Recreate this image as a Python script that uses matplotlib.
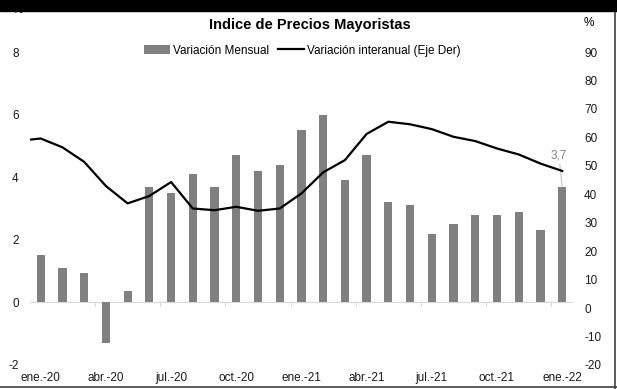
import numpy as np
import matplotlib.pyplot as plt
from matplotlib.patches import Rectangle
from matplotlib.lines import Line2D

plt.rcParams['font.family'] = ['Liberation Sans', 'DejaVu Sans']
plt.rcParams['axes.unicode_minus'] = False

meses       = ['ene.-20', 'feb.-20', 'mar.-20', 'abr.-20', 'may.-20', 'jun.-20',
               'jul.-20', 'ago.-20', 'sep.-20', 'oct.-20', 'nov.-20', 'dic.-20',
               'ene.-21', 'feb.-21', 'mar.-21', 'abr.-21', 'may.-21', 'jun.-21',
               'jul.-21', 'ago.-21', 'sep.-21', 'oct.-21', 'nov.-21', 'dic.-21',
               'ene.-22']
var_mensual = [1.5, 1.1, 0.95, -1.3, 0.35, 3.7, 3.5, 4.1, 3.7, 4.7, 4.2, 4.4,
               5.5, 6.0, 3.9, 4.7, 3.2, 3.1, 2.2, 2.5, 2.8, 2.8, 2.9, 2.3, 3.7]
# interanual, starts one month earlier (dic.-19) so the line runs in from the edge
var_interanual = [58.8, 59.6, 56.5, 51.4, 42.9, 36.8, 39.4, 44.3, 35.0, 34.4, 35.6,
                  34.2, 35.0, 40.3, 47.7, 52.0, 61.2, 65.5, 64.6, 62.9, 60.2, 58.7,
                  56.1, 54.0, 50.8, 48.2]

x       = np.arange(len(meses))
x_line  = np.arange(-1, len(meses))

fig     = plt.figure(figsize=(6.17, 3.89), dpi=100)
ax      = fig.add_axes([0.0484, 0.0617, 0.8803, 0.8046])
ax2     = ax.twinx()

ax.bar(x, var_mensual, width=0.38, color='#808080', label='Variación Mensual', zorder=2)
ax.axhline(0, color='#d9d9d9', lw=0.8, zorder=1)
for b in np.arange(2.5, len(meses), 3):
    ax.plot([b, b], [0, -0.1], color='#d9d9d9', lw=0.8, zorder=1)

ax2.plot(x_line, var_interanual, color='black', lw=1.6, label='Variación interanual (Eje Der)')

ax.set_xlim(-0.5, len(meses) - 0.5)
ax.set_ylim(-2, 8)
ax2.set_ylim(-20, 90)
ax.set_yticks(np.arange(-2, 9, 2))
ax2.set_yticks(np.arange(-20, 91, 10))
ax.set_xticks(x[::3])
ax.set_xticklabels(meses[::3])

for a in (ax, ax2):
    for s in a.spines.values():
        s.set_visible(False)
    a.tick_params(length=0, labelsize=8.5, colors='#1a1a1a')
ax.tick_params(axis='y', pad=8)
ax.tick_params(axis='x', pad=5)
ax2.tick_params(axis='y', pad=8)

# annotation of the last bar
ax.annotate('3,7', xy=(x[-1], var_mensual[-1]), xytext=(x[-1] - 0.15, 4.5),
            fontsize=8.5, color='#7f7f7f', ha='center', va='bottom',
            arrowprops=dict(arrowstyle='-', color='#bfbfbf', lw=0.8, shrinkA=0, shrinkB=0))

fig.text(0.503, 0.935, 'Indice de Precios Mayoristas', fontsize=10.5, fontweight='bold',
         ha='center', va='center')
fig.text(0.955, 0.94, '%', fontsize=8.5, ha='center', va='center')
fig.text(0.029, 0.975, '%', fontsize=8.5, ha='center', va='center', zorder=0)

h1, l1 = ax.get_legend_handles_labels()
h2, l2 = ax2.get_legend_handles_labels()
fig.legend(h1 + h2, l1 + l2, loc='center', bbox_to_anchor=(0.49, 0.87), ncol=2,
           frameon=False, fontsize=8.5, handlelength=2.2, handletextpad=0.2,
           columnspacing=0.8, borderpad=0)

# frame of the image
fig.add_artist(Rectangle((0, 1 - 11 / 389), 1, 11 / 389, transform=fig.transFigure,
                         color='black', zorder=5))
fig.add_artist(Line2D([0.9965, 0.9965], [0, 1], transform=fig.transFigure, color='#404040', lw=1.2))
fig.add_artist(Line2D([0, 1], [0.006, 0.006], transform=fig.transFigure, color='#404040', lw=1.2))

fig.savefig('out.png', dpi=100)
